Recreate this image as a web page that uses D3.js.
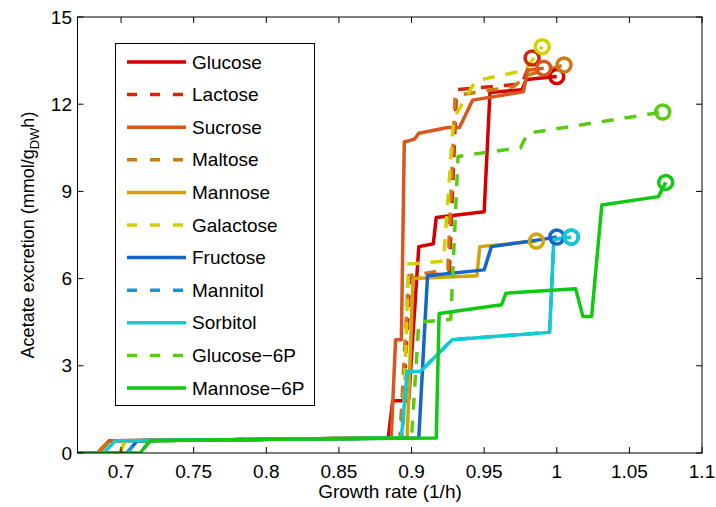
<!DOCTYPE html>
<html><head><meta charset="utf-8">
<script src="https://cdn.jsdelivr.net/npm/d3@7"></script>
<style>
body{margin:0;background:#fff;}
text{font-family:"Liberation Sans",Arial,Helvetica,sans-serif;fill:#000;}
</style></head>
<body>
<svg id="chart" width="716" height="507"></svg>
<script>
// ---------- data ----------
const seriesNames = ["Glucose","Lactose","Sucrose","Maltose","Mannose","Galactose","Fructose","Mannitol","Sorbitol","Glucose\u22126P","Mannose\u22126P"];
const seriesColors = ["#d40000","#cf2a08","#d9561c","#d07812","#d2a30a","#d2d000","#1466cc","#1a94d2","#12cbd2","#5acb12","#12c812"];
const seriesDashed = [false,true,false,true,false,true,false,true,false,true,false];

const glucose   = [[0.67,0],[0.684,0],[0.692,0.42],[0.72,0.43],[0.8,0.47],[0.884,0.52],[0.887,1.8],[0.898,1.8],[0.905,7.1],[0.915,7.2],[0.917,8.1],[0.950,8.3],[0.954,12.4],[0.976,12.5],[0.979,12.85],[1.0,12.95]];
const lactose   = [[0.67,0],[0.684,0],[0.692,0.42],[0.72,0.43],[0.8,0.47],[0.893,0.52],[0.899,6.0],[0.926,6.2],[0.931,12.5],[0.976,12.7],[0.983,13.59]];
const sucrose   = [[0.67,0],[0.684,0],[0.692,0.42],[0.72,0.43],[0.8,0.47],[0.886,0.52],[0.889,3.9],[0.893,3.9],[0.895,10.7],[0.902,10.8],[0.905,11.0],[0.925,11.2],[0.933,11.2],[0.942,12.14],[0.977,12.43],[0.980,13.17],[0.991,13.24]];
const maltose   = [[0.67,0],[0.684,0],[0.692,0.42],[0.72,0.43],[0.8,0.47],[0.892,0.52],[0.898,6.1],[0.925,6.3],[0.930,12.3],[0.970,12.6],[0.980,13.0],[1.005,13.35]];
const mannose   = [[0.67,0],[0.699,0],[0.703,0.42],[0.72,0.43],[0.8,0.47],[0.897,0.52],[0.901,6.0],[0.945,6.1],[0.947,7.1],[0.986,7.29]];
const galactose = [[0.67,0],[0.699,0],[0.703,0.42],[0.72,0.43],[0.8,0.47],[0.894,0.52],[0.898,6.5],[0.922,6.6],[0.929,11.5],[0.944,12.8],[0.978,13.17],[0.99,13.98]];
const fructose  = [[0.67,0],[0.704,0],[0.711,0.42],[0.72,0.43],[0.8,0.47],[0.905,0.52],[0.911,6.1],[0.950,6.3],[0.955,7.1],[0.99,7.35],[1.0,7.43]];
const mannitol  = [[0.67,0],[0.704,0],[0.711,0.42],[0.72,0.43],[0.8,0.47],[0.893,0.52],[0.897,2.8],[0.906,2.8],[0.928,3.9],[0.995,4.15],[0.998,7.35],[1.01,7.43]];
const sorbitol  = [[0.67,0],[0.688,0],[0.696,0.42],[0.72,0.43],[0.8,0.47],[0.893,0.52],[0.897,2.8],[0.906,2.8],[0.928,3.9],[0.995,4.15],[0.998,7.35],[1.01,7.43]];
const glucose6p = [[0.67,0],[0.713,0],[0.72,0.42],[0.8,0.47],[0.9,0.52],[0.905,4.5],[0.927,4.6],[0.932,10.2],[0.945,10.3],[0.975,10.5],[0.98,11.0],[1.073,11.73]];
const mannose6p = [[0.67,0],[0.713,0],[0.72,0.42],[0.8,0.47],[0.917,0.52],[0.919,4.8],[0.962,5.1],[0.965,5.5],[1.013,5.65],[1.018,4.7],[1.024,4.7],[1.031,8.53],[1.07,8.82],[1.075,9.31]];
const seriesValues = [glucose,lactose,sucrose,maltose,mannose,galactose,fructose,mannitol,sorbitol,glucose6p,mannose6p];

const xTicks = [0.7,0.75,0.8,0.85,0.9,0.95,1,1.05,1.1];
const yTicks = [0,3,6,9,12,15];
const xDomain = [0.67,1.1];
const yDomain = [0,15];

// ---------- layout ----------
const svg = d3.select("#chart");
const L=77.5, R=702, T=17, B=453;
const x = d3.scaleLinear().domain(xDomain).range([L,R]);
const y = d3.scaleLinear().domain(yDomain).range([B,T]);

svg.append("clipPath").attr("id","clip").append("rect")
  .attr("x",L).attr("y",T-12).attr("width",R-L).attr("height",B-T+12);

const line = d3.line().x(d=>x(d[0])).y(d=>y(d[1]));
const g = svg.append("g").attr("clip-path","url(#clip)");
seriesValues.forEach((s,i)=>{
  g.append("path").datum(s).attr("d",line)
    .attr("fill","none").attr("stroke",seriesColors[i]).attr("stroke-width",3.5)
    .attr("stroke-linejoin","round")
    .attr("stroke-dasharray",seriesDashed[i]?"12,11":null);
});
seriesValues.forEach((s,i)=>{
  const p = s[s.length-1];
  svg.append("circle").attr("cx",x(p[0])).attr("cy",y(p[1])).attr("r",7)
    .attr("fill","none").attr("stroke",seriesColors[i]).attr("stroke-width",3.5);
});

// axes (MATLAB box style, inward ticks)
const tl=6;
const ax = svg.append("g").attr("stroke","#000").attr("stroke-width",1);
ax.append("rect").attr("x",L).attr("y",T).attr("width",R-L).attr("height",B-T).attr("fill","none");
xTicks.forEach(t=>{
  ax.append("line").attr("x1",x(t)).attr("x2",x(t)).attr("y1",B).attr("y2",B-tl);
  ax.append("line").attr("x1",x(t)).attr("x2",x(t)).attr("y1",T).attr("y2",T+tl);
});
yTicks.forEach(t=>{
  ax.append("line").attr("x1",L).attr("x2",L+tl).attr("y1",y(t)).attr("y2",y(t));
  ax.append("line").attr("x1",R).attr("x2",R-tl).attr("y1",y(t)).attr("y2",y(t));
});
const fmt = d=>String(+d.toFixed(2));
xTicks.forEach(t=>{
  svg.append("text").attr("x",x(t)).attr("y",478).attr("text-anchor","middle")
    .attr("font-size",19).text(fmt(t));
});
yTicks.forEach(t=>{
  svg.append("text").attr("x",72).attr("y",y(t)).attr("dy","0.35em").attr("text-anchor","end")
    .attr("font-size",19).text(t);
});
svg.append("text").attr("x",390).attr("y",498).attr("text-anchor","middle").attr("font-size",19)
  .text("Growth rate (1/h)");
const yt = svg.append("text").attr("transform","translate(34,235) rotate(-90)")
  .attr("text-anchor","middle").attr("font-size",18);
yt.append("tspan").text("Acetate excretion (mmol/g");
yt.append("tspan").attr("font-size",13).attr("dy",5).text("DW");
yt.append("tspan").attr("dy",-5).text("h)");

// legend
const lg = svg.append("g");
lg.append("rect").attr("x",115.5).attr("y",43.5).attr("width",199).attr("height",362)
  .attr("fill","#fff").attr("stroke","#000").attr("stroke-width",1);
seriesNames.forEach((n,i)=>{
  const yy = 62 + i*32.6;
  lg.append("line").attr("x1",127).attr("x2",186).attr("y1",yy).attr("y2",yy)
    .attr("stroke",seriesColors[i]).attr("stroke-width",3.5)
    .attr("stroke-dasharray",seriesDashed[i]?"10,13":null);
  lg.append("text").attr("x",192).attr("y",yy).attr("dy","0.35em").attr("font-size",19).text(n);
});
</script>
</body></html>
